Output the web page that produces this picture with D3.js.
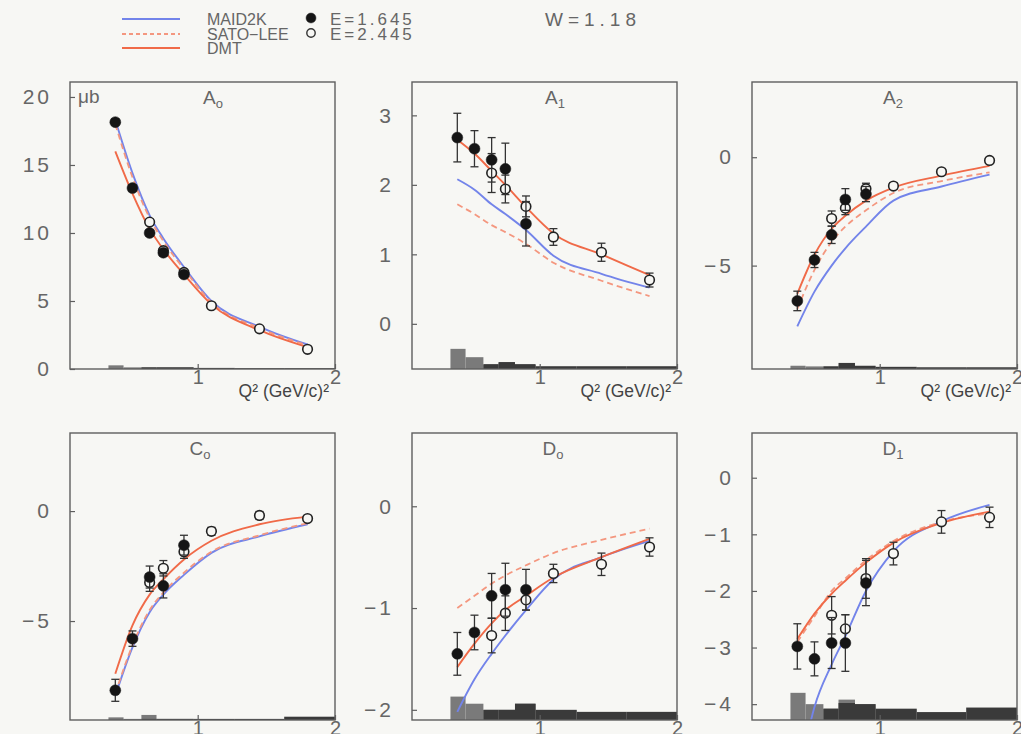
<!DOCTYPE html>
<html><head><meta charset="utf-8">
<script src="https://cdn.jsdelivr.net/npm/d3@7"></script>
<style>
body{margin:0;background:#f7f7f4;}
svg{display:block;}
text{font-family:"Liberation Sans",Arial,sans-serif;}
</style>
</head><body><svg id="c" width="1021" height="734"></svg>
<script>
// ---------- data ----------
const qFilled=[0.4,0.525,0.65,0.75,0.9];          // E=1.645
const qOpen=[0.65,0.75,0.9,1.1,1.45,1.8];          // E=2.445
const qModel=[0.4,0.525,0.65,0.75,0.9,1.1,1.45,1.8];
const sysEdgesLow=[0.35,0.46,0.59,0.70,0.82,0.97];
const sysEdgesHigh=[0.59,0.70,0.82,0.97,1.27,1.63,2.0];
const xTicks=[1,2];
const legendModels=["MAID2K","SATO\u2212LEE","DMT"];
const legendData=["E=1.645","E=2.445"];
const wLabel="W=1.18";

const A0_filled=[18.15,13.3,10.0,8.55,6.95];
const A0_filledErr=[0.25,0.25,0.25,0.25,0.2];
const A0_open=[10.8,8.7,7.1,4.65,2.95,1.45];
const A0_openErr=[0.2,0.2,0.2,0.15,0.15,0.1];
const A0_maid=[18.3,14.4,11.3,9.6,7.5,5.0,3.1,1.8];
const A0_sato=[18.0,14.1,11.1,9.4,7.35,4.9,3.0,1.75];
const A0_dmt=[16.0,12.9,10.3,8.8,6.95,4.75,2.85,1.6];
const A0_sysLow=[0.27,0.12,0.12,0.12,0.12];
const A0_sysHigh=[0.12,0.12,0.12,0.08,0.06,0.06];
const A0_ticks=[0,5,10,15,20];

const A1_filled=[2.68,2.52,2.36,2.23,1.44];
const A1_filledErr=[0.35,0.26,0.32,0.37,0.32];
const A1_open=[2.17,1.94,1.69,1.25,1.03,0.63];
const A1_openErr=[0.28,0.2,0.15,0.12,0.13,0.1];
const A1_maid=[2.08,1.93,1.72,1.58,1.35,0.98,0.72,0.52];
const A1_sato=[1.72,1.58,1.42,1.32,1.15,0.88,0.62,0.4];
const A1_dmt=[2.65,2.45,2.2,2.0,1.68,1.3,1.0,0.7];
const A1_sysLow=[0.29,0.17,0.06,0.08,0.06];
const A1_sysHigh=[0.07,0.1,0.07,0.04,0.04,0.04];
const A1_ticks=[0,1,2,3];

const A2_filled=[-6.63,-4.74,-3.58,-1.95,-1.70];
const A2_filledErr=[0.45,0.35,0.4,0.5,0.35];
const A2_open=[-2.83,-2.35,-1.45,-1.33,-0.67,-0.15];
const A2_openErr=[0.35,0.3,0.25,0.15,0.12,0.1];
const A2_maid=[-7.8,-6.2,-5.0,-4.2,-3.2,-2.0,-1.35,-0.8];
const A2_sato=[-7.0,-5.2,-3.9,-3.2,-2.45,-1.65,-1.1,-0.7];
const A2_dmt=[-6.3,-4.5,-3.3,-2.7,-2.0,-1.4,-0.85,-0.4];
const A2_sysLow=[0.15,0.12,0.12,0.15,0.12];
const A2_sysHigh=[0.12,0.28,0.15,0.1,0.08,0.08];
const A2_ticks=[-5,0];

const C0_filled=[-8.15,-5.8,-3.0,-3.4,-1.55];
const C0_filledErr=[0.5,0.35,0.5,0.55,0.45];
const C0_open=[-3.25,-2.6,-1.85,-0.92,-0.2,-0.34];
const C0_openErr=[0.4,0.35,0.3,0.18,0.18,0.12];
const C0_maid=[-8.4,-6.2,-4.6,-3.8,-2.9,-1.9,-1.15,-0.6];
const C0_sato=[-8.3,-6.1,-4.5,-3.7,-2.8,-1.85,-1.1,-0.55];
const C0_dmt=[-7.4,-5.2,-3.8,-3.1,-2.2,-1.35,-0.6,-0.25];
const C0_sysLow=[0.12,0.05,0.23,0.05,0.05];
const C0_sysHigh=[0.05,0.05,0.05,0.05,0.05,0.15];
const C0_ticks=[-5,0];

const D0_filled=[-1.45,-1.24,-0.88,-0.82,-0.82];
const D0_filledErr=[0.21,0.17,0.22,0.26,0.2];
const D0_open=[-1.27,-1.05,-0.92,-0.66,-0.57,-0.40];
const D0_openErr=[0.17,0.17,0.1,0.09,0.11,0.09];
const D0_maid=[-2.02,-1.7,-1.45,-1.27,-1.02,-0.72,-0.5,-0.34];
const D0_sato=[-1.0,-0.88,-0.76,-0.68,-0.58,-0.46,-0.33,-0.22];
const D0_dmt=[-1.58,-1.35,-1.15,-1.02,-0.88,-0.7,-0.5,-0.32];
const D0_sysLow=[0.23,0.16,0.1,0.1,0.16];
const D0_sysHigh=[0.1,0.1,0.16,0.1,0.08,0.08];
const D0_ticks=[-2,-1,0];

const D1_filled=[-2.98,-3.2,-2.92,-2.92,-1.86];
const D1_filledErr=[0.4,0.3,0.45,0.5,0.4];
const D1_open=[-2.43,-2.67,-1.78,-1.34,-0.78,-0.7];
const D1_openErr=[0.33,0.25,0.35,0.2,0.2,0.18];
const D1_maid=[-5.4,-4.05,-3.3,-2.8,-2.0,-1.3,-0.77,-0.48];
const D1_sato=[-2.9,-2.45,-2.0,-1.78,-1.46,-1.12,-0.78,-0.63];
const D1_dmt=[-2.85,-2.4,-2.05,-1.82,-1.5,-1.15,-0.8,-0.6];
const D1_sysLow=[0.48,0.28,0.2,0.36,0.28];
const D1_sysHigh=[0.2,0.3,0.28,0.2,0.14,0.22];
const D1_ticks=[-4,-3,-2,-1,0];

// ---------- layout ----------
const colX=[70,412,752], rowY=[82,433], PW=265, PH=287;
const xDomain=[0.07,2.0];
const panels=[
 {name:"A",sub:"o",col:0,row:0,dom:[0,21.1],ticks:A0_ticks,f:A0_filled,fe:A0_filledErr,o:A0_open,oe:A0_openErr,maid:A0_maid,sato:A0_sato,dmt:A0_dmt,sl:A0_sysLow,sh:A0_sysHigh,unit:true,tx:213},
 {name:"A",sub:"1",col:1,row:0,dom:[-0.65,3.48],ticks:A1_ticks,f:A1_filled,fe:A1_filledErr,o:A1_open,oe:A1_openErr,maid:A1_maid,sato:A1_sato,dmt:A1_dmt,sl:A1_sysLow,sh:A1_sysHigh,tx:555},
 {name:"A",sub:"2",col:2,row:0,dom:[-9.77,3.47],ticks:A2_ticks,f:A2_filled,fe:A2_filledErr,o:A2_open,oe:A2_openErr,maid:A2_maid,sato:A2_sato,dmt:A2_dmt,sl:A2_sysLow,sh:A2_sysHigh,tx:893},
 {name:"C",sub:"o",col:0,row:1,dom:[-9.5,3.55],ticks:C0_ticks,f:C0_filled,fe:C0_filledErr,o:C0_open,oe:C0_openErr,maid:C0_maid,sato:C0_sato,dmt:C0_dmt,sl:C0_sysLow,sh:C0_sysHigh,tx:200},
 {name:"D",sub:"o",col:1,row:1,dom:[-2.1,0.72],ticks:D0_ticks,f:D0_filled,fe:D0_filledErr,o:D0_open,oe:D0_openErr,maid:D0_maid,sato:D0_sato,dmt:D0_dmt,sl:D0_sysLow,sh:D0_sysHigh,tx:553},
 {name:"D",sub:"1",col:2,row:1,dom:[-4.28,0.79],ticks:D1_ticks,f:D1_filled,fe:D1_filledErr,o:D1_open,oe:D1_openErr,maid:D1_maid,sato:D1_sato,dmt:D1_dmt,sl:D1_sysLow,sh:D1_sysHigh,tx:893}
];

const svg=d3.select("#c");
svg.append("rect").attr("width",1021).attr("height",734).attr("fill","#f7f7f4");
const BLUE="#7384ea", SATO="#f4977f", DMT="#f06a48", TXT="#666", AX="#5e5e5e";

panels.forEach((p,i)=>{
  const x0=colX[p.col], y0=rowY[p.row];
  const x=d3.scaleLinear().domain(xDomain).range([x0,x0+PW]);
  const y=d3.scaleLinear().domain(p.dom).range([y0+PH,y0]);
  const g=svg.append("g");
  const cid="clip"+i;
  svg.append("clipPath").attr("id",cid).append("rect").attr("x",x0).attr("y",y0).attr("width",PW).attr("height",PH);
  const inner=g.append("g").attr("clip-path",`url(#${cid})`);
  const yb=p.dom[0];
  const drawSys=(edges,vals,color)=>{
    inner.selectAll(null).data(vals).enter().append("rect")
      .attr("x",(d,k)=>x(edges[k])).attr("width",(d,k)=>x(edges[k+1])-x(edges[k]))
      .attr("y",d=>y(yb+d)).attr("height",d=>y(yb)-y(yb+d)).attr("fill",color);
  };
  drawSys(sysEdgesLow,p.sl,"#7a7a7a");
  drawSys(sysEdgesHigh,p.sh,"#3a3a3a");
  const line=d3.line().x((d,k)=>x(qModel[k])).y(d=>y(d)).curve(d3.curveMonotoneX);
  inner.append("path").attr("d",line(p.maid)).attr("fill","none").attr("stroke",BLUE).attr("stroke-width",1.9);
  inner.append("path").attr("d",line(p.sato)).attr("fill","none").attr("stroke",SATO).attr("stroke-width",1.8).attr("stroke-dasharray","6,4");
  inner.append("path").attr("d",line(p.dmt)).attr("fill","none").attr("stroke",DMT).attr("stroke-width",1.9);
  const drawPts=(qs,vals,errs,filled)=>{
    const pg=inner.append("g");
    qs.forEach((q,k)=>{
      const cx=x(q), cy=y(vals[k]), t=y(vals[k]+errs[k]), b=y(vals[k]-errs[k]);
      pg.append("line").attr("x1",cx).attr("x2",cx).attr("y1",t).attr("y2",b).attr("stroke","#333").attr("stroke-width",1.3);
      [t,b].forEach(yy=>pg.append("line").attr("x1",cx-4).attr("x2",cx+4).attr("y1",yy).attr("y2",yy).attr("stroke","#333").attr("stroke-width",1.3));
      pg.append("circle").attr("cx",cx).attr("cy",cy).attr("r",filled?5.5:4.8)
        .attr("fill",filled?"#151515":"#f7f7f4").attr("stroke","#222").attr("stroke-width",filled?0.5:1.6);
    });
  };
  drawPts(qOpen,p.o,p.oe,false);
  drawPts(qFilled,p.f,p.fe,true);
  g.append("rect").attr("x",x0).attr("y",y0).attr("width",PW).attr("height",PH).attr("fill","none").attr("stroke",AX).attr("stroke-width",1.4);
  const ya=g.append("g").attr("transform",`translate(${x0},0)`)
    .call(d3.axisLeft(y).tickValues(p.ticks).tickSize(-5).tickPadding(18).tickFormat(d=>d<0?"\u2212"+Math.abs(d):d));
  ya.select(".domain").remove();
  ya.selectAll("line").attr("stroke",AX).attr("stroke-width",1.2);
  ya.selectAll("text").attr("fill",TXT).attr("font-size",21).attr("font-family","Liberation Sans, Arial, sans-serif").attr("letter-spacing",3);
  const xa=g.append("g").attr("transform",`translate(0,${y0+PH})`)
    .call(d3.axisBottom(x).tickValues(xTicks).tickSize(-5).tickPadding(1).tickFormat(d3.format("d")));
  xa.select(".domain").remove();
  xa.selectAll("line").attr("stroke",AX).attr("stroke-width",1.2);
  xa.selectAll("text").attr("fill",TXT).attr("font-size",20).attr("font-family","Liberation Sans, Arial, sans-serif");
  if(p.row===0){
    g.append("text").attr("x",x0+PW-6).attr("y",y0+PH+28).attr("text-anchor","end")
      .attr("font-family","DejaVu Sans Mono, monospace").attr("font-size",17.5).attr("fill","#444")
      .text("Q\u00b2 (GeV/c)\u00b2");
  }
  const tt=g.append("text").attr("x",p.tx).attr("y",y0+22).attr("text-anchor","middle").attr("fill",TXT).attr("font-size",19);
  tt.append("tspan").text(p.name);
  tt.append("tspan").attr("dy",4).attr("font-size",13).text(p.sub);
  if(p.unit){
    g.append("text").attr("x",x0+8).attr("y",y0+21).attr("fill",TXT).attr("font-size",19).text("\u03bcb");
  }
});

// ---------- legend ----------
const lg=svg.append("g");
const legY=[19,34,48];
const legStyles=[{c:BLUE,d:null},{c:SATO,d:"4,3"},{c:DMT,d:null}];
legendModels.forEach((t,k)=>{
  lg.append("line").attr("x1",122).attr("x2",180).attr("y1",legY[k]).attr("y2",legY[k])
    .attr("stroke",legStyles[k].c).attr("stroke-width",1.8).attr("stroke-dasharray",legStyles[k].d);
  lg.append("text").attr("x",207).attr("y",legY[k]+6).attr("fill",TXT).attr("font-size",16).text(t);
});
legendData.forEach((t,k)=>{
  lg.append("circle").attr("cx",311).attr("cy",legY[k]-1).attr("r",k===0?5:4.2)
    .attr("fill",k===0?"#151515":"#f7f7f4").attr("stroke","#333").attr("stroke-width",k===0?0.5:1.4);
  lg.append("text").attr("x",330).attr("y",legY[k]+6).attr("fill",TXT).attr("font-size",17).attr("letter-spacing",3).text(t);
});
lg.append("text").attr("x",545).attr("y",26).attr("fill",TXT).attr("font-size",19).attr("letter-spacing",5).text(wLabel);
</script></body></html>
